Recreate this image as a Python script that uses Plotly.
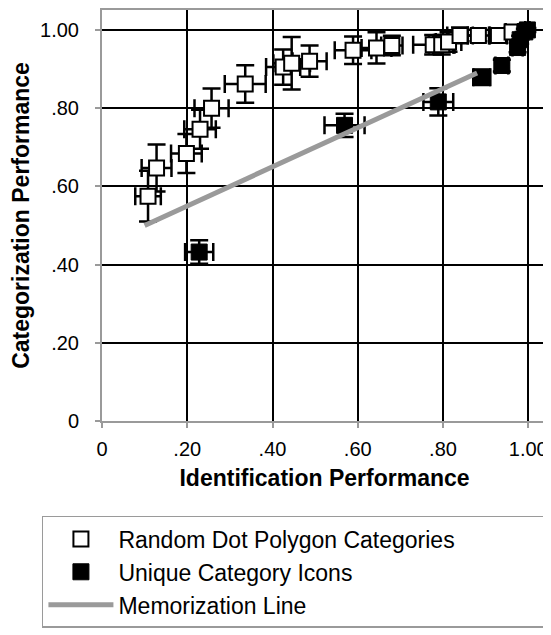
import plotly.graph_objects as go

# Random Dot Polygon Categories (open squares)
rdp_x = [0.108, 0.128, 0.198, 0.230, 0.257, 0.336, 0.425, 0.445, 0.487, 0.589, 0.644, 0.680,
         0.777, 0.797, 0.813, 0.840, 0.883, 0.930, 0.962]
rdp_y = [0.575, 0.647, 0.684, 0.746, 0.800, 0.862, 0.905, 0.915, 0.920, 0.948, 0.954, 0.960,
         0.962, 0.962, 0.969, 0.986, 0.986, 0.986, 0.995]
rdp_xerr = [0.030, 0.035, 0.036, 0.037, 0.040, 0.048, 0.040, 0.043, 0.040, 0.043, 0.035, 0.025,
            0.047, 0.030, 0.030, 0.030, 0.025, 0.020, 0.015]
rdp_yerr = [0.065, 0.060, 0.050, 0.050, 0.050, 0.048, 0.045, 0.067, 0.040, 0.035, 0.040, 0.025,
            0.025, 0.025, 0.025, 0.020, 0.015, 0.015, 0.010]

# Unique Category Icons (filled squares)
uci_x = [0.228, 0.569, 0.789, 0.891, 0.938, 0.975, 0.981, 0.992, 0.998]
uci_y = [0.432, 0.756, 0.816, 0.879, 0.909, 0.955, 0.975, 0.995, 1.000]
uci_xerr = [0.033, 0.047, 0.035, 0.020, 0.015, 0.012, 0.010, 0.008, 0.005]
uci_yerr = [0.030, 0.030, 0.035, 0.020, 0.015, 0.012, 0.010, 0.008, 0.005]

# Memorization line
memo_x = [0.10, 0.88]
memo_y = [0.50, 0.89]

tick_vals = [0, 0.2, 0.4, 0.6, 0.8, 1.0]
tick_text = ["0", ".20", ".40", ".60", ".80", "1.00"]

FONT = "Liberation Sans, Arial, Helvetica, sans-serif"

fig = go.Figure()

fig.add_trace(go.Scatter(
    x=rdp_x, y=rdp_y, mode="markers", name="Random Dot Polygon Categories",
    marker=dict(symbol="square", size=15, color="white", line=dict(color="black", width=2)),
    error_x=dict(type="data", array=rdp_xerr, color="black", thickness=2.5, width=9),
    error_y=dict(type="data", array=rdp_yerr, color="black", thickness=2.5, width=9),
))
fig.add_trace(go.Scatter(
    x=uci_x, y=uci_y, mode="markers", name="Unique Category Icons",
    marker=dict(symbol="square", size=16, color="black", line=dict(color="black", width=1)),
    error_x=dict(type="data", array=uci_xerr, color="black", thickness=2.5, width=9),
    error_y=dict(type="data", array=uci_yerr, color="black", thickness=2.5, width=9),
))
fig.add_trace(go.Scatter(
    x=memo_x, y=memo_y, mode="lines", name="Memorization Line",
    line=dict(color="#9a9a9a", width=5),
))

axis_common = dict(
    tickvals=tick_vals, ticktext=tick_text,
    showgrid=True, gridcolor="black", gridwidth=2,
    showline=True, linecolor="#9a9a9a", linewidth=2, mirror=True,
    ticks="outside", ticklen=5, tickcolor="#9a9a9a", tickwidth=1.5,
    zeroline=False,
    tickfont=dict(family=FONT, size=20, color="black"),
)

fig.update_xaxes(range=[0, 1.044], **axis_common, ticklabelstandoff=4,
                 title=dict(text="<b>Identification Performance</b>", standoff=11,
                            font=dict(family=FONT, size=23, color="black")))
fig.update_yaxes(range=[0, 1.051], **axis_common, ticklabelstandoff=12,
                 title=dict(text="<b>Categorization Performance</b>", standoff=6,
                            font=dict(family=FONT, size=23, color="black")))

# page body has an 8px margin, so the figure is sized/offset accordingly
fig.update_layout(
    width=543, height=627,
    margin=dict(l=94, r=4, t=2, b=214, autoexpand=False),
    paper_bgcolor="white", plot_bgcolor="white",
    showlegend=True,
    legend=dict(
        orientation="h",
        x=-0.135, y=-0.231, xanchor="left", yanchor="top",
        bordercolor="#9a9a9a", borderwidth=1.5, bgcolor="white",
        font=dict(family=FONT, size=23, color="black"),
        itemwidth=65, tracegroupgap=0,
        entrywidth=432, entrywidthmode="pixels",
    ),
)

fig.write_html("out.html")
